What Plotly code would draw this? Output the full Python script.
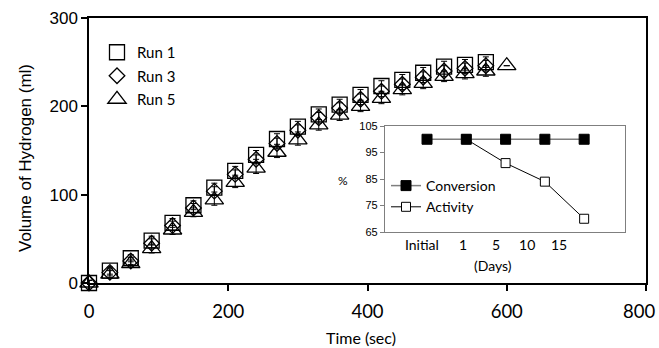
import plotly.graph_objects as go

# ---------------- data ----------------
time_r1 = [0, 30, 60, 90, 120, 150, 180, 210, 240, 270, 300, 330, 360, 390, 420, 450, 480, 510, 540, 570]
run1 = [0, 14, 28, 48, 68, 88, 108, 127, 145, 163, 177, 191, 202, 213, 223, 230, 238, 245, 247, 250]
run1_err = [3, 4, 4, 5, 5, 5, 5, 5, 5, 6, 6, 6, 6, 6, 6, 6, 6, 6, 6, 6]

time_r3 = [0, 30, 60, 90, 120, 150, 180, 210, 240, 270, 300, 330, 360, 390, 420, 450, 480, 510, 540, 570]
run3 = [0, 12, 25, 45, 65, 85, 104, 123, 140, 158, 173, 187, 198, 208, 217, 225, 233, 240, 243, 246]
run3_err = [3, 4, 4, 5, 5, 5, 5, 5, 5, 6, 6, 6, 6, 6, 6, 6, 6, 6, 6, 6]

time_r5 = [0, 30, 60, 90, 120, 150, 180, 210, 240, 270, 300, 330, 360, 390, 420, 450, 480, 510, 540, 570, 600]
run5 = [0, 10, 22, 39, 60, 80, 94, 114, 130, 148, 162, 179, 190, 200, 209, 219, 226, 234, 237, 240, 246]
run5_err = [3, 4, 4, 5, 5, 5, 6, 6, 6, 6, 6, 6, 6, 6, 6, 6, 6, 6, 6, 6, 0]

x_ticks = [0, 200, 400, 600, 800]
x_ticktext = ["0", "200", "400", "600", "800"]

day_labels = ["Initial", "1", "5", "10", "15"]
day_index = [0, 1, 2, 3, 4]
conversion = [100, 100, 100, 100, 100]
activity = [100, 100, 91, 84, 70]

# layout-only positions for the inset's category labels
day_label_pos = [-0.13, 0.92, 1.76, 2.55, 3.36]

# ---------------- figure ----------------
fig = go.Figure()

def err(vals):
    return dict(type="data", array=vals, visible=True, color="black", thickness=1, width=3)

fig.add_trace(go.Scatter(
    x=time_r1, y=run1, mode="markers", name="Run 1", legendgroup="r1",
    error_y=err(run1_err), cliponaxis=False,
    marker=dict(symbol="square-open", size=15, color="black", line=dict(width=1.3, color="black"))))
fig.add_trace(go.Scatter(
    x=time_r3, y=run3, mode="markers", name="Run 3", legendgroup="r3",
    error_y=err(run3_err), cliponaxis=False,
    marker=dict(symbol="diamond-open", size=12, color="black", line=dict(width=1.3, color="black"))))
fig.add_trace(go.Scatter(
    x=time_r5, y=run5, mode="markers", name="Run 5", legendgroup="r5",
    error_y=err(run5_err), cliponaxis=False,
    marker=dict(symbol="triangle-up-open", size=16, color="black", line=dict(width=1.3, color="black"))))

# inset (Activity drawn first so Conversion squares sit on top)
fig.add_trace(go.Scatter(
    x=day_index[1:], y=activity[1:], mode="lines+markers", name="Activity",
    xaxis="x2", yaxis="y2", legend="legend2", cliponaxis=False, legendrank=2,
    line=dict(color="black", width=1),
    marker=dict(symbol="square", size=9, color="white", line=dict(width=1, color="black"))))
fig.add_trace(go.Scatter(
    x=day_index, y=conversion, mode="lines+markers", name="Conversion",
    xaxis="x2", yaxis="y2", legend="legend2", cliponaxis=False, legendrank=1,
    line=dict(color="#7f7f7f", width=1.5),
    marker=dict(symbol="square", size=10, color="black", line=dict(width=1, color="black"))))

W, H = 659, 348
L, R, T, B = 89, 13, 18, 65
pw, ph = W - L - R, H - T - B

def px(xp):
    return (xp - L) / pw

def py(yp):
    return (H - B - yp) / ph

tick_font = dict(family="Lato", size=18.5, color="black")

annotations = [
    dict(text="Volume of Hydrogen (ml)", x=px(25), y=py(158), xref="paper", yref="paper",
         showarrow=False, textangle=-90, xanchor="center", yanchor="middle",
         font=dict(family="Liberation Sans", size=17, color="black")),
    dict(text="Time (sec)", x=px(361), y=py(337), xref="paper", yref="paper",
         showarrow=False, xanchor="center", yanchor="middle",
         font=dict(family="Lato", size=16, color="black")),
    dict(text="(Days)", x=px(493), y=py(265), xref="paper", yref="paper",
         showarrow=False, xanchor="center", yanchor="middle",
         font=dict(family="Lato", size=14, color="black")),
    dict(text="%", x=px(343), y=py(180), xref="paper", yref="paper",
         showarrow=False, xanchor="center", yanchor="middle",
         font=dict(family="Lato", size=12, color="black")),
    # last x tick label, nudged left so it stays inside the page (as in the original)
    dict(text=x_ticktext[-1], x=x_ticks[-1], xref="x", y=0, yref="paper",
         showarrow=False, xanchor="right", yanchor="middle", xshift=11, yshift=-28,
         font=tick_font),
]

fig.update_layout(
    width=W, height=H,
    margin=dict(l=L, r=R, t=T, b=B, autoexpand=False),
    paper_bgcolor="white", plot_bgcolor="white",
    showlegend=True,
    xaxis=dict(range=[0, 800], tickvals=x_ticks, ticktext=x_ticktext[:-1] + [""],
               ticks="outside", ticklen=6,
               tickcolor="black", tickwidth=1.5, showline=True, linecolor="black", linewidth=1.5,
               mirror=True, showgrid=False, zeroline=False, ticklabelstandoff=5,
               automargin=False, tickfont=tick_font),
    yaxis=dict(range=[0, 300], tickvals=[0, 100, 200, 300], ticks="outside", ticklen=6,
               tickcolor="black", tickwidth=1.5, showline=True, linecolor="black", linewidth=1.5,
               mirror=True, showgrid=False, zeroline=False, automargin=False,
               tickfont=dict(family="Liberation Sans", size=17, color="black")),
    xaxis2=dict(domain=[px(385), px(625)], anchor="y2", range=[-1.07, 5.04],
                tickvals=day_label_pos, ticktext=day_labels, ticks="", automargin=False,
                showline=True, linecolor="#7f7f7f", linewidth=1.3, mirror=True,
                showgrid=False, zeroline=False,
                tickfont=dict(family="Lato", size=14, color="black")),
    yaxis2=dict(domain=[py(232), py(126)], anchor="x2", range=[65, 105],
                tickvals=[65, 75, 85, 95, 105], ticks="outside", ticklen=4, automargin=False,
                tickcolor="#7f7f7f", showline=True, linecolor="#7f7f7f", linewidth=1.3, mirror=True,
                showgrid=False, zeroline=False,
                tickfont=dict(family="Liberation Sans", size=11, color="black")),
    legend=dict(x=px(97), y=py(36), xanchor="left", yanchor="top", bgcolor="rgba(0,0,0,0)",
                font=dict(family="Lato", size=15, color="black"), tracegroupgap=1,
                itemsizing="trace"),
    legend2=dict(x=px(386), y=py(170), xanchor="left", yanchor="top", bgcolor="rgba(0,0,0,0)",
                 font=dict(family="Lato", size=14, color="black"), tracegroupgap=0,
                 traceorder="normal"),
    annotations=annotations,
)

fig.write_html("out.html")
